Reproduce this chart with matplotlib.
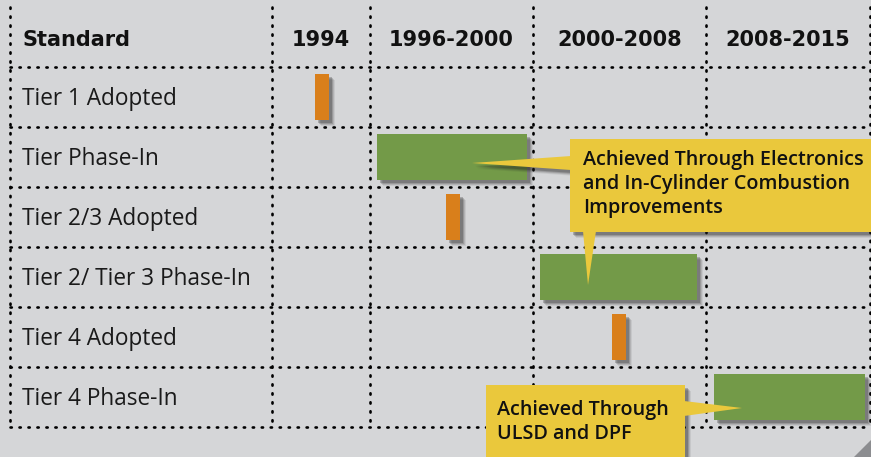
import matplotlib.pyplot as plt
from matplotlib.patches import Rectangle, Polygon

# table content
columns = ["1994", "1996-2000", "2000-2008", "2008-2015"]
rows = ["Tier 1 Adopted", "Tier Phase-In", "Tier 2/3 Adopted",
        "Tier 2/ Tier 3 Phase-In", "Tier 4 Adopted", "Tier 4 Phase-In"]
# bar start / end on the timeline (pixel units of the original table)
bar_start = [315, 377, 446, 540, 612, 714]
bar_end = [329, 527, 460, 697, 626, 865]
bar_kind = ["adopt", "phase", "adopt", "phase", "adopt", "phase"]
callout_1 = ["Achieved Through Electronics", "and In-Cylinder Combustion", "Improvements"]
callout_2 = ["Achieved Through", "ULSD and DPF"]

BG = "#d5d6d8"
ORANGE = "#d97f1b"
GREEN = "#739a48"
YELLOW = "#eac83c"

plt.rcParams['font.family'] = ['Open Sans', 'DejaVu Sans']

fig = plt.figure(figsize=(8.71, 4.57), dpi=100, facecolor=BG)
ax = fig.add_axes([0, 0, 1, 1])
ax.set_xlim(0, 871)
ax.set_ylim(457, 0)
ax.axis("off")
ax.set_facecolor(BG)

col_edges = [10, 272, 370, 533, 706, 870]
row_top = 67
row_h = 60
grid_bottom = row_top + row_h * len(rows)

dots = dict(color="black", lw=1.9, linestyle=(0, (0.5, 2.9)), dash_capstyle="round", zorder=2)
for x in col_edges:
    ax.plot([x, x], [7, grid_bottom], **dots)
for i in range(len(rows) + 1):
    y = row_top + i * row_h
    ax.plot([10, 870], [y, y], **dots)

# header
head = dict(fontsize=15, fontweight="bold", va="center", family="DejaVu Sans", color="#111111")
ax.text(22, 40, "Standard", ha="left", **head)
for i, c in enumerate(columns):
    xc = (col_edges[i + 1] + col_edges[i + 2]) / 2
    ax.text(xc, 40, c, ha="center", **head)


def shadow(x, y, w, h, z):
    for k, a in [(6, 0.08), (5, 0.12), (4, 0.18), (3, 0.25)]:
        ax.add_patch(Rectangle((x + k, y + k), w, h, color="#222222", alpha=a, lw=0, zorder=z))


bar_h = 46
for i, (label, s, e, kind) in enumerate(zip(rows, bar_start, bar_end, bar_kind)):
    yc = row_top + row_h * i + row_h / 2
    ax.text(22, yc + 2, label, fontsize=16.3, va="center", ha="left", color="#1a1a1a")
    shadow(s, yc - bar_h / 2, e - s, bar_h, 3)
    ax.add_patch(Rectangle((s, yc - bar_h / 2), e - s, bar_h,
                           color=ORANGE if kind == "adopt" else GREEN, lw=0, zorder=4))

# callout 1 (pointing left into Tier Phase-In and down into Tier 2/3 Phase-In)
b1 = (570, 139, 310, 93)
for k, a in [(6, 0.08), (5, 0.12), (4, 0.18), (3, 0.25)]:
    ax.add_patch(Polygon([(570 + k, 157 + k), (472 + k, 163 + k), (570 + k, 170 + k)],
                         color="#222222", alpha=a, lw=0, zorder=5))
shadow(*b1, 5)
ax.add_patch(Rectangle((b1[0], b1[1]), b1[2], b1[3], color=YELLOW, lw=0, zorder=6))
ax.add_patch(Polygon([(571, 156), (472, 163), (571, 170)], color=YELLOW, lw=0, zorder=6))
ax.add_patch(Polygon([(583, 231), (588, 285), (596, 231)], color=YELLOW, lw=0, zorder=6))
for j, line in enumerate(callout_1):
    ax.text(583, 160 + 24 * j, line, fontsize=14.2, fontweight="semibold", va="center", ha="left",
            color="#111111", zorder=7)

# callout 2 (pointing right into Tier 4 Phase-In)
b2 = (486, 385, 199, 80)
shadow(*b2, 5)
ax.add_patch(Rectangle((b2[0], b2[1]), b2[2], b2[3], color=YELLOW, lw=0, zorder=6))
ax.add_patch(Polygon([(684, 401), (742, 408), (684, 416)], color=YELLOW, lw=0, zorder=6))
for j, line in enumerate(callout_2):
    ax.text(497, 410 + 24 * j, line, fontsize=14.2, fontweight="semibold", va="center", ha="left",
            color="#111111", zorder=7)

# small corner fold
ax.add_patch(Polygon([(871, 440), (871, 457), (854, 457)], color="#8c8d90", lw=0, zorder=1))

fig.savefig("out.png", dpi=100, facecolor=BG)
